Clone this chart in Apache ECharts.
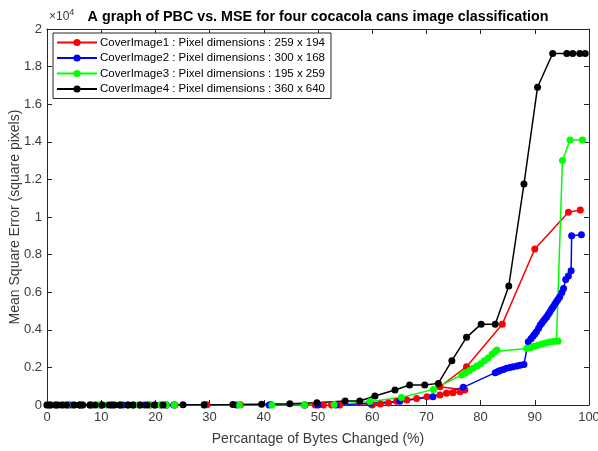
<!DOCTYPE html>
<html>
<head>
<meta charset="utf-8">
<script src="https://cdn.jsdelivr.net/npm/echarts@6/dist/echarts.min.js"></script>
<style>
  html, body { margin: 0; padding: 0; background: #fff; }
  #chart { width: 598px; height: 451px; }
</style>
</head>
<body>
<div id="chart"></div>
<script>
// percentage of bytes changed (x) and MSE (y, square pixels) for each cover image
const redX = [0.3, 1.5, 3, 4.5, 6.2, 8.3, 10, 12, 13.4, 15, 17, 19, 21, 22, 23.6, 29.5, 35.7, 41.3, 47.6, 49.5, 51, 52.5, 54, 60, 61.5, 63, 64.5, 66.4, 68.2, 70.1, 72.5, 73.7, 74.9, 76.2, 77.1, 72.5, 77.4, 84.0, 90.0, 96.2, 98.4]
const redY = [0, 0, 0, 0, 0, 0, 0, 0, 0, 0, 0, 0, 0, 0, 0, 10, 15, 20, 0, 0, 0, 0, 0, 0, 50, 100, 200, 270, 350, 440, 530, 620, 650, 710, 800, 970, 2040, 4300, 8300, 10250, 10370]

const blueX = [0.5, 2, 4, 6, 8, 10, 12, 14, 16, 18, 20, 22, 23.4, 29, 35, 41, 47.5, 50, 53.3, 59.6, 65.1, 71.2, 76.8, 82.7, 83.2, 83.6, 84.2, 84.8, 85.4, 86.0, 86.7, 87.3, 88.0, 88.8, 89.3, 89.7, 90.0, 90.3, 90.7, 91.0, 91.3, 91.6, 91.9, 92.2, 92.5, 92.8, 93.1, 93.4, 93.7, 94.0, 94.3, 94.6, 95.0, 95.3, 95.7, 96.2, 96.7, 96.8, 98.6]
const blueY = [0, 0, 0, 0, 0, 0, 0, 0, 0, 0, 0, 0, 0, 0, 0, 0, 0, 0, 0, 90, 200, 440, 940, 1720, 1780, 1830, 1890, 1950, 2000, 2040, 2080, 2120, 2160, 3370, 3520, 3670, 3780, 3900, 4080, 4250, 4360, 4480, 4590, 4700, 4830, 4960, 5100, 5230, 5370, 5500, 5630, 5760, 5980, 6200, 6680, 6860, 7140, 9000, 9050]

const greenX = [0, 1.5, 3.7, 5, 6.5, 8, 9.5, 11, 13.5, 15, 17, 19, 21, 22, 23.5, 29, 35.5, 41.5, 47.5, 53, 59.6, 65.4, 71.3, 76.5, 77.2, 77.9, 78.6, 79.3, 80, 80.7, 81.4, 82.1, 82.7, 83.0, 88.5, 89.2, 89.9, 90.6, 91.3, 92, 92.7, 93.4, 94.0, 94.3, 95.1, 96.5, 98.8]
const greenY = [0, 0, 0, 0, 0, 0, 0, 0, 0, 0, 0, 0, 0, 0, 0, 0, 0, 0, 0, 20, 180, 400, 830, 1600, 1700, 1820, 1950, 2080, 2200, 2350, 2500, 2700, 2850, 2930, 3000, 3050, 3120, 3180, 3250, 3300, 3350, 3380, 3400, 3400, 13000, 14100, 14100]

const blackX = [0, 0.7, 1.7, 2.7, 3.6, 5, 6, 6.6, 7.9, 8.9, 10.2, 11.5, 12.5, 13.5, 14.9, 15.8, 17.2, 18.5, 19.8, 21.4, 25.1, 29, 34.3, 39.6, 44.8, 49.8, 55, 57.7, 60.5, 64.2, 66.9, 69.7, 72.2, 74.7, 77.4, 80.1, 82.7, 85.2, 88, 90.5, 93.3, 95.9, 97, 98.3, 99.3]
const blackY = [0, 0, 0, 0, 0, 0, 0, 0, 0, 0, 0, 0, 0, 0, 0, 0, 0, 0, 0, 5, 10, 15, 20, 40, 60, 120, 210, 210, 480, 800, 1060, 1060, 1150, 2360, 3600, 4300, 4300, 6330, 11750, 16900, 18700, 18700, 18700, 18700, 18700]

const seriesNames = [
  'CoverImage1 : Pixel dimensions : 259 x 194',
  'CoverImage2 : Pixel dimensions : 300 x 168',
  'CoverImage3 : Pixel dimensions : 195 x 259',
  'CoverImage4 : Pixel dimensions : 360 x 640'
]
const seriesColors = ['#ff0000', '#0000ff', '#00ff00', '#000000']
const seriesX = [redX, blueX, greenX, blackX]
const seriesY = [redY, blueY, greenY, blackY]

const font = 'Liberation Sans, Arial, Helvetica, sans-serif'
const axisColor = '#262626'
const labelColor = '#3a3a3a'

let chart = echarts.init(document.getElementById('chart'))

function zip(xs, ys) {
  return xs.map((x, i) => [x, ys[i]])
}

let series = seriesNames.map((name, i) => ({
  name: name,
  type: 'line',
  data: zip(seriesX[i], seriesY[i]),
  color: seriesColors[i],
  symbol: 'circle',
  symbolSize: 7,
  lineStyle: { width: 1.5 },
  animation: false
}))

let tickStyle = { show: true, inside: true, length: 5, lineStyle: { color: axisColor } }
let lineStyle = { show: true, onZero: false, lineStyle: { color: axisColor, width: 1 } }

let option = {
  backgroundColor: '#fff',
  graphic: [{
    type: 'text',
    x: 318,
    y: 17,
    style: {
      text: 'A graph of PBC vs. MSE for four cocacola cans image classification',
      fontFamily: font, fontSize: 14.3, fontWeight: 'bold', fill: '#000',
      textAlign: 'center', textVerticalAlign: 'middle'
    }
  }, {
    type: 'text',
    left: 49,
    top: 8,
    style: {
      text: '{a|×10}{b|4}',
      rich: {
        a: { fontFamily: font, fontSize: 12, fill: labelColor },
        b: { fontFamily: font, fontSize: 9, fill: labelColor, verticalAlign: 'top', padding: [0, 0, 8, 0] }
      }
    }
  }],
  legend: {
    orient: 'vertical',
    left: 53,
    top: 33,
    itemWidth: 40,
    itemHeight: 9,
    itemGap: 2.5,
    padding: [3, 6, 3, 3],
    backgroundColor: '#fff',
    borderColor: axisColor,
    borderWidth: 1,
    textStyle: { fontFamily: font, fontSize: 11.5, lineHeight: 13, color: '#000', padding: [0, 0, 0, -2] },
    data: seriesNames
  },
  grid: { left: 47, right: 9, top: 29, bottom: 46, outerBoundsMode: 'none', containLabel: false },
  xAxis: [{
    type: 'value',
    min: 0, max: 100, interval: 10,
    name: 'Percantage of Bytes Changed (%)',
    nameLocation: 'middle',
    nameGap: 27,
    nameMoveOverlap: false,
    nameTextStyle: { fontFamily: font, fontSize: 14, color: labelColor },
    axisLine: lineStyle,
    axisTick: tickStyle,
    axisLabel: { fontFamily: font, fontSize: 13, color: labelColor, margin: 6 },
    splitLine: { show: false }
  }, {
    type: 'value',
    position: 'top',
    min: 0, max: 100, interval: 10,
    axisLine: lineStyle,
    axisTick: tickStyle,
    axisLabel: { show: false },
    splitLine: { show: false }
  }],
  yAxis: [{
    type: 'value',
    min: 0, max: 20000, interval: 2000,
    name: 'Mean Square Error (square pixels)',
    nameLocation: 'middle',
    nameGap: 25,
    nameMoveOverlap: false,
    nameTextStyle: { fontFamily: font, fontSize: 14, color: labelColor },
    axisLine: lineStyle,
    axisTick: tickStyle,
    axisLabel: {
      fontFamily: font, fontSize: 13, color: labelColor, margin: 5,
      formatter: v => String(parseFloat((v / 10000).toFixed(1)))
    },
    splitLine: { show: false }
  }, {
    type: 'value',
    position: 'right',
    min: 0, max: 20000, interval: 2000,
    axisLine: lineStyle,
    axisTick: tickStyle,
    axisLabel: { show: false },
    splitLine: { show: false }
  }],
  series: series
}

chart.setOption(option)
</script>
</body>
</html>
